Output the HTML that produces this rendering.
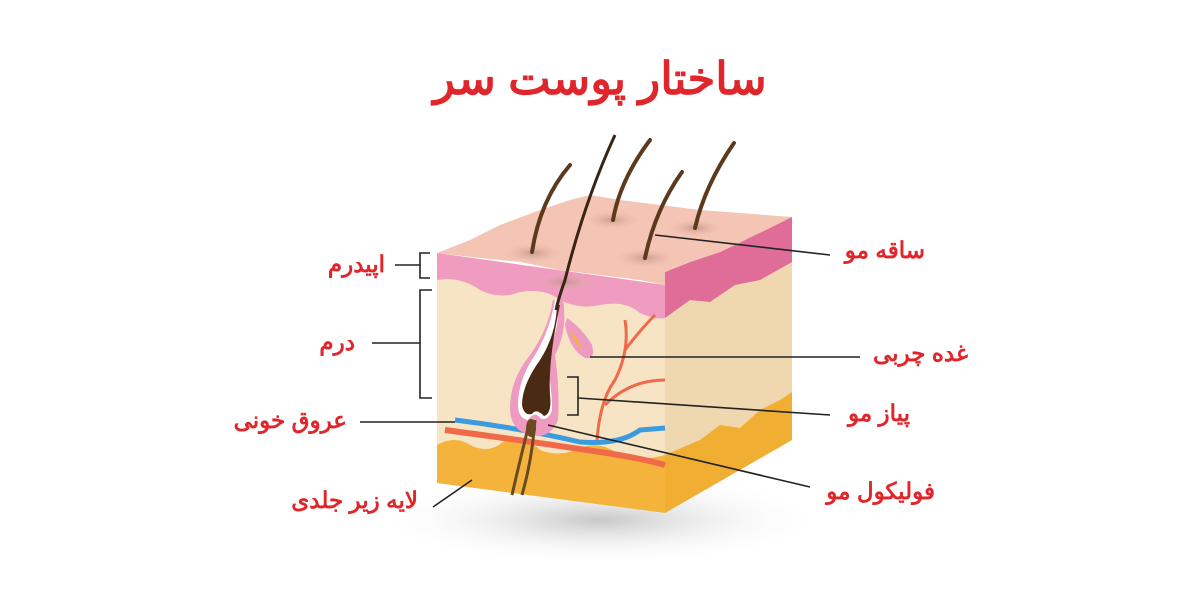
<!DOCTYPE html>
<html><head><meta charset="utf-8"><style>
body{margin:0;width:1200px;height:600px;background:#fff;overflow:hidden;position:relative;font-family:"Liberation Sans","Noto Sans CJK SC",sans-serif}
.t{position:absolute;color:#e0252b;font-size:23px;font-weight:bold;direction:rtl;white-space:nowrap;line-height:1;text-align:right}
</style></head><body>
<div class="t" style="left:400px;top:56px;width:400px;text-align:center;font-size:45px;font-weight:900">ساختار پوست سر</div>
<svg width="1200" height="600" style="position:absolute;left:0;top:0">
<defs>
<radialGradient id="sh" cx="50%" cy="50%" r="50%"><stop offset="0" stop-color="#999" stop-opacity=".55"/><stop offset="1" stop-color="#fff" stop-opacity="0"/></radialGradient>
<radialGradient id="hs" cx="50%" cy="50%" r="50%"><stop offset="0" stop-color="#b58a80" stop-opacity=".7"/><stop offset="1" stop-color="#e9b8a8" stop-opacity="0"/></radialGradient>
</defs>
<ellipse cx="600" cy="520" rx="230" ry="45" fill="url(#sh)"/>
<path d="M665 300 L792 217 L792 440 L665 513 Z" fill="#efd8b0"/>
<path d="M665 455 L700 440 L720 425 L740 428 L760 410 L780 400 L792 392 L792 440 L665 513 Z" fill="#f0ae32"/>
<path d="M665 318 L690 300 L710 302 L735 285 L760 280 L792 262 L792 217 L770 225 L745 240 L720 252 L690 262 L665 272 Z" fill="#e06d97"/>
<path d="M437 253 L665 285 L665 513 L437 483 Z" fill="#f6e4c4"/>
<path d="M437 445 Q455 435 470 445 Q490 455 505 440 Q525 435 540 450 Q560 458 580 448 Q600 440 620 455 Q640 462 665 455 L665 513 L437 483 Z" fill="#f4b43c"/>
<path d="M437 253 L437 280 Q460 276 480 290 Q500 300 520 292 Q545 288 560 300 Q580 310 600 305 Q625 300 640 313 Q655 320 665 318 L665 285 Z" fill="#f09cc0"/>
<path d="M437 253 L470 240 L500 225 L540 210 L570 200 L590 195 L620 200 L660 205 L700 210 L740 213 L792 217 L770 228 L745 240 L720 252 L690 262 L665 272 L665 285 L640 280 L600 275 L560 270 L520 262 L480 258 Z" fill="#f4c5b4"/>
<ellipse cx="533" cy="253" rx="30" ry="10" fill="url(#hs)"/>
<ellipse cx="612" cy="220" rx="28" ry="9" fill="url(#hs)"/>
<ellipse cx="645" cy="258" rx="30" ry="10" fill="url(#hs)"/>
<ellipse cx="695" cy="228" rx="28" ry="9" fill="url(#hs)"/>
<ellipse cx="565" cy="282" rx="30" ry="9" fill="url(#hs)"/>
<g stroke="#5b3a1e" fill="none" stroke-linecap="round">
<path d="M532 252 Q540 200 570 165" stroke-width="4"/>
<path d="M613 220 Q620 180 650 140" stroke-width="4"/>
<path d="M645 258 Q655 210 682 172" stroke-width="4"/>
<path d="M695 228 Q705 185 734 143" stroke-width="4"/>
</g>
<path d="M445 430 Q520 440 600 452 Q640 458 665 465" stroke="#f06a4a" stroke-width="6" fill="none"/>
<path d="M455 420 Q520 428 580 442 Q620 445 640 430 L665 428" stroke="#3a9be0" stroke-width="5" fill="none"/>
<path d="M597 440 Q600 400 615 380 Q630 350 625 320 M625 350 Q640 330 655 315 M605 405 Q630 380 665 380" stroke="#f06a4a" stroke-width="3" fill="none"/>
<path d="M563 300 Q568 330 555 355 Q560 390 558 420 Q550 440 530 435 Q510 430 510 408 Q510 380 530 355 Q548 330 553 300 Z" fill="#ef9ac0"/>
<path d="M558 300 Q560 330 548 350 Q540 360 548 368 Q552 390 552 410 Q548 422 540 418 Q535 410 528 420 Q518 418 518 405 Q518 380 535 355 Q550 330 555 300 Z" fill="#fff"/>
<path d="M557 305 Q556 335 540 360 Q522 385 522 405 Q524 416 532 414 Q536 408 544 416 Q552 414 550 395 Q548 360 560 305 Z" fill="#4a2a12"/>
<path d="M567 318 Q582 328 592 345 Q596 360 585 358 Q570 350 565 325 Z" fill="#ef9ac0"/>
<path d="M570 330 Q578 338 583 350 Q575 345 570 330 Z" fill="#f4b43c"/>
<path d="M615 135 Q585 200 565 280 Q558 300 556 310" stroke="#3a2412" stroke-width="3" fill="none"/>
<path d="M530 420 Q520 460 512 495 M535 420 Q532 460 522 495" stroke="#6b4a22" stroke-width="3" fill="none"/>
<ellipse cx="531" cy="428" rx="5" ry="9" fill="#6b4a22"/>
<g stroke="#222" stroke-width="1.6" fill="none">
<path d="M655 235 L830 255"/>
<path d="M590 357 L860 357"/>
<path d="M567 377 H578 V415 H567 M578 398 L830 415"/>
<path d="M548 425 L810 487"/>
<path d="M430 253 H420 V278 H430 M420 265 H395"/>
<path d="M432 290 H420 V398 H432 M420 343 H372"/>
<path d="M360 422 H455"/>
<path d="M433 507 L472 480"/>
</g>
</svg>
<div class="t" style="right:275px;top:239px">ساقه مو</div>
<div class="t" style="right:232px;top:342px">غده چربی</div>
<div class="t" style="right:290px;top:402px">پیاز مو</div>
<div class="t" style="right:265px;top:480px">فولیکول مو</div>
<div class="t" style="right:815px;top:253px">اپیدرم</div>
<div class="t" style="right:845px;top:331px">درم</div>
<div class="t" style="right:853px;top:409px">عروق خونی</div>
<div class="t" style="right:782px;top:489px">لایه زیر جلدی</div>
</body></html>
